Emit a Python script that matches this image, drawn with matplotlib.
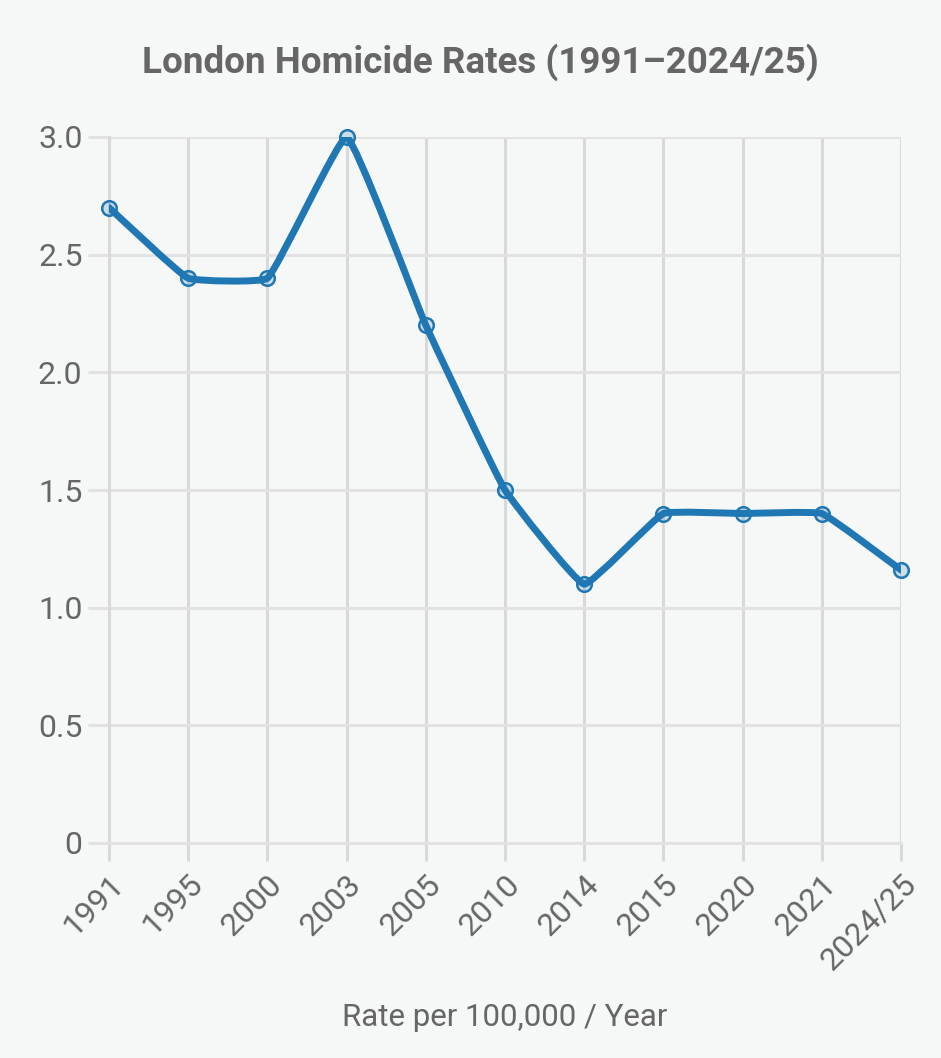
import numpy as np
import matplotlib
matplotlib.use("Agg")
import matplotlib.pyplot as plt
from matplotlib.path import Path
from matplotlib.patches import PathPatch

years = ["1991", "1995", "2000", "2003", "2005", "2010", "2014", "2015", "2020", "2021", "2024/25"]
rates = [2.7, 2.4, 2.4, 3.0, 2.2, 1.5, 1.1, 1.4, 1.4, 1.4, 1.16]
y_ticks = [0, 0.5, 1.0, 1.5, 2.0, 2.5, 3.0]
y_tick_labels = ["0", "0.5", "1.0", "1.5", "2.0", "2.5", "3.0"]

plt.rcParams['font.family'] = ['Roboto', 'DejaVu Sans']

BG = "#f6f8f8"
LINE = "#1f77b4"
TXT = "#666666"
HGRID = "#e2e2e2"
VGRID = "#d9d9d9"

fig = plt.figure(figsize=(9.41, 10.58), dpi=100, facecolor=BG)
ax = fig.add_axes([109/941, 1-843/1058, (901-109)/941, (843-137)/1058])
ax.set_facecolor(BG)

x = np.arange(len(years))
ax.set_xlim(x[0], x[-1])
ax.set_ylim(0, 3.0)

# Chart.js-like bezier smoothing (low tension) computed in display space
fig.canvas.draw()
pts = ax.transData.transform(np.column_stack([x, rates]))
t = 0.1
n = len(pts)
cps_prev = np.zeros_like(pts)
cps_next = np.zeros_like(pts)
for i in range(n):
    cur = pts[i]
    prev = pts[i-1] if i > 0 else cur
    nxt = pts[i+1] if i < n-1 else cur
    d01 = np.hypot(*(cur - prev))
    d12 = np.hypot(*(nxt - cur))
    tot = d01 + d12
    s01 = d01 / tot if tot else 0
    s12 = d12 / tot if tot else 0
    cps_prev[i] = cur - t * s01 * (nxt - prev)
    cps_next[i] = cur + t * s12 * (nxt - prev)
verts = [pts[0]]
codes = [Path.MOVETO]
for i in range(n-1):
    verts += [cps_next[i], cps_prev[i+1], pts[i+1]]
    codes += [Path.CURVE4]*3
verts = ax.transData.inverted().transform(np.array(verts))
path = Path(verts, codes)
ax.add_patch(PathPatch(path, facecolor='none', edgecolor=LINE, lw=5,
                       capstyle='round', joinstyle='round', zorder=3))
ax.plot(x, rates, linestyle='none', marker='o', markersize=10.5,
        markerfacecolor=(0.12, 0.47, 0.71, 0.2), markeredgecolor=LINE, markeredgewidth=1.8,
        zorder=4, clip_on=False)

ax.set_xticks(x)
ax.set_xticklabels(years, rotation=45, ha='right', rotation_mode='anchor')
ax.set_yticks(y_ticks)
ax.set_yticklabels(y_tick_labels)
ax.tick_params(axis='both', colors=TXT, labelsize=23, width=2.2)
ax.tick_params(axis='x', length=13, color=VGRID, pad=6)
ax.tick_params(axis='y', length=15, color=HGRID, pad=4)
ax.xaxis.grid(True, color=VGRID, lw=2.2, zorder=0)
ax.yaxis.grid(True, color=HGRID, lw=2.2, zorder=0)
for s in ['top', 'right']:
    ax.spines[s].set_visible(False)
ax.spines['left'].set_color(VGRID)
ax.spines['left'].set_linewidth(2.2)
ax.spines['bottom'].set_color(HGRID)
ax.spines['bottom'].set_linewidth(2.2)

ax.set_xlabel("Rate per 100,000 / Year", color=TXT, fontsize=22.5, va='center')
ax.xaxis.set_label_coords(0.5, -(1017 - 843) / (843 - 137))
fig.text(480.5/941, 1-62/1058, "London Homicide Rates (1991\u20132024/25)", ha='center', va='center',
         color=TXT, fontsize=26.5, fontweight='bold')

fig.savefig("out.png", dpi=100, facecolor=BG)
